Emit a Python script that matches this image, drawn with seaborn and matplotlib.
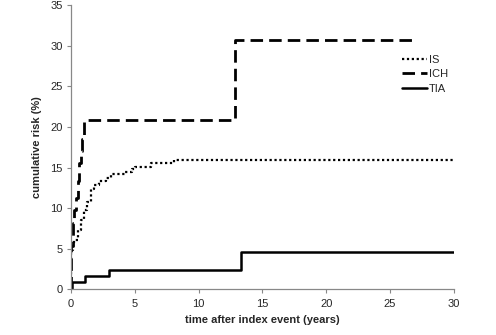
import numpy as np
import pandas as pd
import matplotlib
matplotlib.use("Agg")
import matplotlib.pyplot as plt
import seaborn as sns

# Cumulative risk step curves (time in years, risk in %)
is_time = [0, 0.02, 0.13, 0.26, 0.52, 0.78, 1.04, 1.23, 1.56, 1.82, 2.2, 2.74, 3.13,
           4.2, 4.75, 5.0, 6.3, 8.1, 30]
is_risk = [0, 4.8, 5.6, 6.1, 7.3, 8.6, 9.8, 10.8, 12.3, 12.9, 13.3, 13.75, 14.25,
           14.5, 14.8, 15.1, 15.5, 15.9, 15.9]

ich_time = [0, 0.02, 0.13, 0.25, 0.4, 0.52, 0.65, 0.78, 0.9, 1.03, 12.85, 27]
ich_risk = [0, 5.3, 8.2, 9.8, 11.2, 13.3, 15.6, 17.0, 18.5, 20.8, 30.7, 30.7]

tia_time = [0, 0.05, 1.07, 3.0, 13.35, 30]
tia_risk = [0, 0.95, 1.65, 2.35, 4.55, 4.55]

series_names = ["IS", "ICH", "TIA"]
x_ticks = [0, 5, 10, 15, 20, 25, 30]
y_ticks = [0, 5, 10, 15, 20, 25, 30, 35]

frames = []
for name, t, r in zip(series_names, [is_time, ich_time, tia_time],
                      [is_risk, ich_risk, tia_risk]):
    frames.append(pd.DataFrame({"time": t, "risk": r, "series": name}))
df = pd.concat(frames, ignore_index=True)

sns.set_style("white")
plt.rcParams["font.family"] = ["Liberation Sans", "DejaVu Sans"]

fig = plt.figure(figsize=(4.96, 3.35), dpi=100)
ax = fig.add_axes([0.143, 0.136, 0.772, 0.849])

styles = {
    "IS": dict(linestyle=(0, (1, 1.2)), linewidth=1.6),
    "ICH": dict(linestyle=(0, (4.5, 2.2)), linewidth=2.0),
    "TIA": dict(linestyle="-", linewidth=1.8),
}

for name in series_names:
    sub = df[df["series"] == name]
    sns.lineplot(data=sub, x="time", y="risk", ax=ax, color="black",
                 estimator=None, sort=False, drawstyle="steps-post",
                 label=name, **styles[name])

ax.set_xlim(0, 30)
ax.set_ylim(0, 35)
ax.set_xticks(x_ticks)
ax.set_yticks(y_ticks)
ax.tick_params(axis="both", labelsize=8, length=3, width=0.8, color="#888888",
               direction="out")
ax.tick_params(axis="x", bottom=True, pad=4)
ax.tick_params(axis="y", left=True, pad=3)

for side in ["top", "right"]:
    ax.spines[side].set_visible(False)
for side in ["left", "bottom"]:
    ax.spines[side].set_color("#888888")
    ax.spines[side].set_linewidth(0.9)

ax.set_xlabel("time after index event (years)", fontsize=8, fontweight="bold",
              labelpad=4)
ax.set_ylabel("cumulative risk (%)", fontsize=8, fontweight="bold", labelpad=6)

leg = ax.legend(loc="upper left", bbox_to_anchor=(0.865, 0.825), frameon=False,
                fontsize=8, handlelength=2.2, handletextpad=0.2,
                labelspacing=0.4, borderaxespad=0, borderpad=0)

fig.savefig("out.png", dpi=100)
